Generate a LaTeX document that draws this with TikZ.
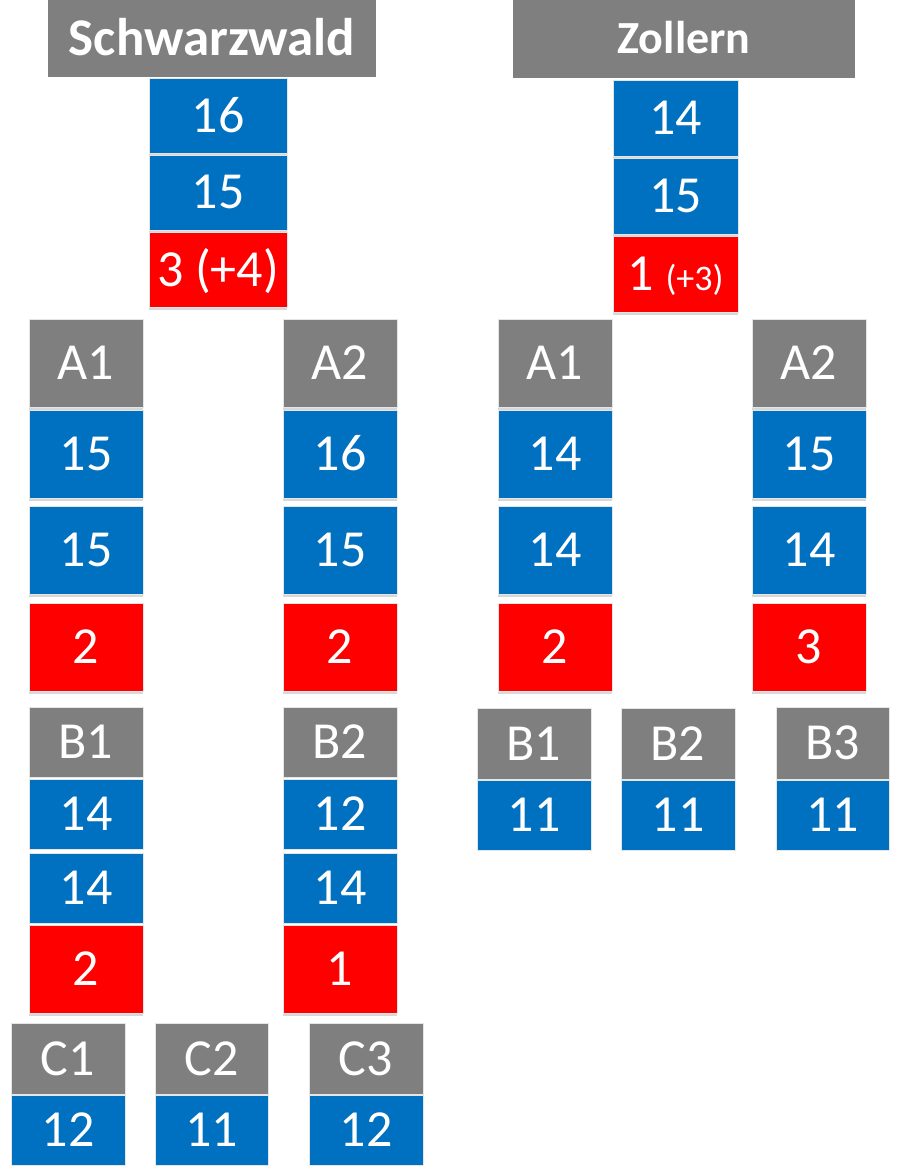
\documentclass[tikz,border=0pt]{standalone}
\usepackage{fontspec}
\setmainfont{Carlito}
\usetikzlibrary{shadows}
\definecolor{cgray}{HTML}{7F7F7F}
\definecolor{cblue}{HTML}{0070C0}
\definecolor{cred}{HTML}{FF0000}
\tikzset{
  cell/.style={rectangle, draw=black!10, line width=0.75pt, text=white, inner sep=0pt,
    text height=33pt, text depth=0pt, font=\fontsize{52}{52}\selectfont},
  gcell/.style={cell, fill=cgray},
  bcell/.style={cell, fill=cblue},
  rcell/.style={cell, fill=cred},
  shad/.style={drop shadow={opacity=0.3, shadow xshift=0pt, shadow yshift=-3pt}},
  wA/.style={minimum width=114pt},
  hA/.style={minimum height=88pt},
  hB/.style={minimum height=70pt},
  hdr/.style={rectangle, fill=cgray, text=white, inner sep=0pt}
}
\begin{document}
\begin{tikzpicture}[x=1pt,y=-1pt]
\useasboundingbox[fill=white] (0,0) rectangle (897,1166);
% headers
\node[hdr, minimum width=328pt, minimum height=77pt, font=\bfseries\fontsize{53}{53}\selectfont,
  text height=34pt, text depth=0pt] (hS) at (212,38.5) {Schwarzwald};
\node[hdr, minimum width=342pt, minimum height=78pt, font=\bfseries\fontsize{46}{46}\selectfont,
  text height=29.5pt, text depth=0pt] (hZ) at (684,39) {Zollern};
% Schwarzwald top stack
\node[bcell, shad, minimum width=138pt, minimum height=75pt] (s1) at (218,116) {16};
\node[bcell, shad, minimum width=138pt, minimum height=75pt] (s2) at (218,192.5) {15};
\node[rcell, shad, minimum width=138pt, minimum height=75pt] (s3) at (218,269.5) {3 (+4)};
% Zollern top stack
\node[bcell, shad, minimum width=125pt, minimum height=76pt] (z1) at (675.5,118) {14};
\node[bcell, shad, minimum width=125pt, minimum height=76pt] (z2) at (675.5,196) {15};
\node[rcell, shad, minimum width=125pt, minimum height=76pt] (z3) at (675.5,274) {1 {\fontsize{36}{36}\selectfont(+3)}};
% Schwarzwald A columns
\node[gcell, shad, wA, hA] (sA1) at (86,363) {A1};
\node[bcell, shad, wA, hA] (sA1a) at (86,454) {15};
\node[bcell, shad, wA, hA] (sA1b) at (86,550) {15};
\node[rcell, shad, wA, hA] (sA1c) at (86,647) {2};
\node[gcell, shad, wA, hA] (sA2) at (340,363) {A2};
\node[bcell, shad, wA, hA] (sA2a) at (340,454) {16};
\node[bcell, shad, wA, hA] (sA2b) at (340,550) {15};
\node[rcell, shad, wA, hA] (sA2c) at (340,647) {2};
% Zollern A columns
\node[gcell, shad, wA, hA] (zA1) at (555,363) {A1};
\node[bcell, shad, wA, hA] (zA1a) at (555,454) {14};
\node[bcell, shad, wA, hA] (zA1b) at (555,550) {14};
\node[rcell, shad, wA, hA] (zA1c) at (555,647) {2};
\node[gcell, shad, wA, hA] (zA2) at (809,363) {A2};
\node[bcell, shad, wA, hA] (zA2a) at (809,454) {15};
\node[bcell, shad, wA, hA] (zA2b) at (809,550) {14};
\node[rcell, shad, wA, hA] (zA2c) at (809,647) {3};
% Schwarzwald B columns
\node[gcell, wA, hB] (sB1) at (86,742) {B1};
\node[bcell, wA, hB] (sB1a) at (86,814) {14};
\node[bcell, wA, hB] (sB1b) at (86,888) {14};
\node[rcell, shad, wA, hA] (sB1c) at (86,969) {2};
\node[gcell, wA, hB] (sB2) at (340,742) {B2};
\node[bcell, wA, hB] (sB2a) at (340,814) {12};
\node[bcell, wA, hB] (sB2b) at (340,888) {14};
\node[rcell, shad, wA, hA] (sB2c) at (340,969) {1};
% Schwarzwald C row
\node[gcell, wA, minimum height=71pt] (sC1) at (68,1058.5) {C1};
\node[bcell, wA, hB] (sC1a) at (68,1130) {12};
\node[gcell, minimum width=113pt, minimum height=71pt] (sC2) at (211.5,1058.5) {C2};
\node[bcell, minimum width=113pt, hB] (sC2a) at (211.5,1130) {11};
\node[gcell, wA, minimum height=71pt] (sC3) at (366,1058.5) {C3};
\node[bcell, wA, hB] (sC3a) at (366,1130) {12};
% Zollern B row
\node[gcell, wA, minimum height=71pt] (zB1) at (534,743.5) {B1};
\node[bcell, wA, hB] (zB1a) at (534,815) {11};
\node[gcell, wA, minimum height=71pt] (zB2) at (678,743.5) {B2};
\node[bcell, wA, hB] (zB2a) at (678,815) {11};
\node[gcell, minimum width=113pt, minimum height=72pt] (zB3) at (832.5,743) {B3};
\node[bcell, minimum width=113pt, hB] (zB3a) at (832.5,815) {11};
\end{tikzpicture}
\end{document}
